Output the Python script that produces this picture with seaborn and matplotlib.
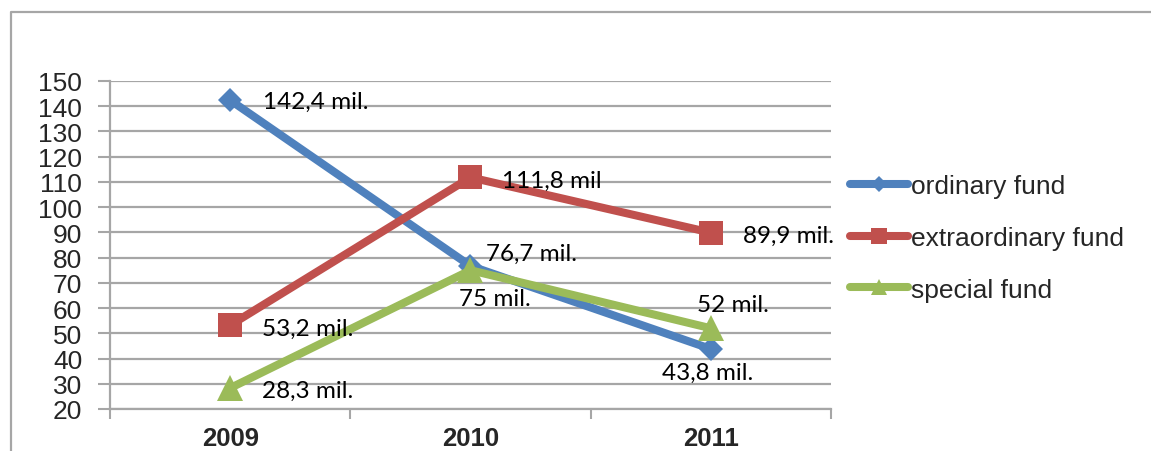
import matplotlib
matplotlib.use("Agg")
import matplotlib.pyplot as plt
from matplotlib.lines import Line2D
import pandas as pd
import seaborn as sns

# Fund totals (millions) per year
years = [2009, 2010, 2011]
ordinary_fund = [142.4, 76.7, 43.8]
extraordinary_fund = [53.2, 111.8, 89.9]
special_fund = [28.3, 75.0, 52.0]

series_names = ["ordinary fund", "extraordinary fund", "special fund"]
ordinary_labels = ["142,4 mil.", "76,7 mil.", "43,8 mil."]
extraordinary_labels = ["53,2 mil.", "111,8 mil", "89,9 mil."]
special_labels = ["28,3 mil.", "75 mil.", "52 mil."]

y_ticks = list(range(20, 151, 10))

df = pd.DataFrame({
    "year": years * 3,
    "value": ordinary_fund + extraordinary_fund + special_fund,
    "fund": [n for n in series_names for _ in years],
})

colors = {"ordinary fund": "#4F81BD", "extraordinary fund": "#C0504D", "special fund": "#9BBB59"}
markers = {"ordinary fund": "D", "extraordinary fund": "s", "special fund": "^"}
msizes = {"ordinary fund": 12, "extraordinary fund": 17, "special fund": 19}
legend_msizes = {"ordinary fund": 8, "extraordinary fund": 12, "special fund": 12}

sns.set_style("white")
plt.rcParams["font.family"] = ["Liberation Sans", "DejaVu Sans"]

fig = plt.figure(figsize=(11.51, 4.52), dpi=100)
ax = fig.add_axes([110 / 1151, 1 - 410 / 452, 721 / 1151, 328 / 452])

# outer chart frame (left and top edges)
frame_color = "#A6A6A6"
fig.add_artist(Line2D([11 / 1151, 11 / 1151, 1.0], [0.0, 1 - 13 / 452, 1 - 13 / 452],
                      transform=fig.transFigure, color=frame_color, lw=1.6))

sns.lineplot(data=df, x="year", y="value", hue="fund", style="fund",
             palette=colors, markers=markers, dashes=False, linewidth=5.8,
             markeredgewidth=0, ax=ax, legend=False, zorder=3)

for line, name in zip(ax.lines, series_names):
    line.set_markersize(msizes[name])
    line.set_solid_capstyle("round")

ax.set_xlim(2008.5, 2011.5)
ax.set_ylim(20, 150)
ax.set_yticks(y_ticks)
ax.set_yticklabels([str(t) for t in y_ticks], fontsize=19)
ax.set_xticks(years)
ax.set_xticklabels([str(y) for y in years], fontsize=18.5, fontweight="bold")
ax.set_xticks([2008.5, 2009.5, 2010.5, 2011.5], minor=True)
ax.tick_params(axis="x", which="major", length=0, pad=12)
ax.tick_params(axis="x", which="minor", length=7, width=1.5, color=frame_color, bottom=True)
ax.tick_params(axis="y", which="major", length=9, width=1.5, color=frame_color, pad=11, left=True)
ax.grid(axis="y", color=frame_color, lw=1.6, zorder=0)
ax.set_axisbelow(True)
for side in ["top", "right"]:
    ax.spines[side].set_visible(False)
for side in ["left", "bottom"]:
    ax.spines[side].set_color(frame_color)
    ax.spines[side].set_linewidth(1.6)
ax.set_xlabel("")
ax.set_ylabel("")

# value annotations (offsets in points)
label_font = dict(family=["Lato", "DejaVu Sans"], fontsize=17.5, color="black", zorder=5)
placements = {
    "ordinary fund": [(24, -1, "left", "center"), (11, 9, "left", "center"), (-2, -17, "center", "center")],
    "extraordinary fund": [(23, -2, "left", "center"), (23, -2, "left", "center"), (23, -2, "left", "center")],
    "special fund": [(23, -2, "left", "center"), (-8, -20, "left", "center"), (16, 17, "center", "center")],
}
label_sets = {"ordinary fund": ordinary_labels, "extraordinary fund": extraordinary_labels,
              "special fund": special_labels}
value_sets = {"ordinary fund": ordinary_fund, "extraordinary fund": extraordinary_fund,
              "special fund": special_fund}
for name in series_names:
    for yr, val, txt, (dx, dy, ha, va) in zip(years, value_sets[name], label_sets[name], placements[name]):
        ax.annotate(txt, (yr, val), xytext=(dx, dy), textcoords="offset points",
                    ha=ha, va=va, **label_font)

# legend
handles = [Line2D([], [], color=colors[n], lw=5.8, marker=markers[n],
                  markersize=legend_msizes[n], markeredgewidth=0,
                  solid_capstyle="round") for n in series_names]
fig.legend(handles, series_names, loc="center left", bbox_to_anchor=(850 / 1151, 1 - 239 / 452),
           frameon=False, fontsize=19, handlelength=2.2, handletextpad=0.1,
           labelspacing=1.05, borderaxespad=0, borderpad=0)

fig.savefig("out.png", dpi=100)
